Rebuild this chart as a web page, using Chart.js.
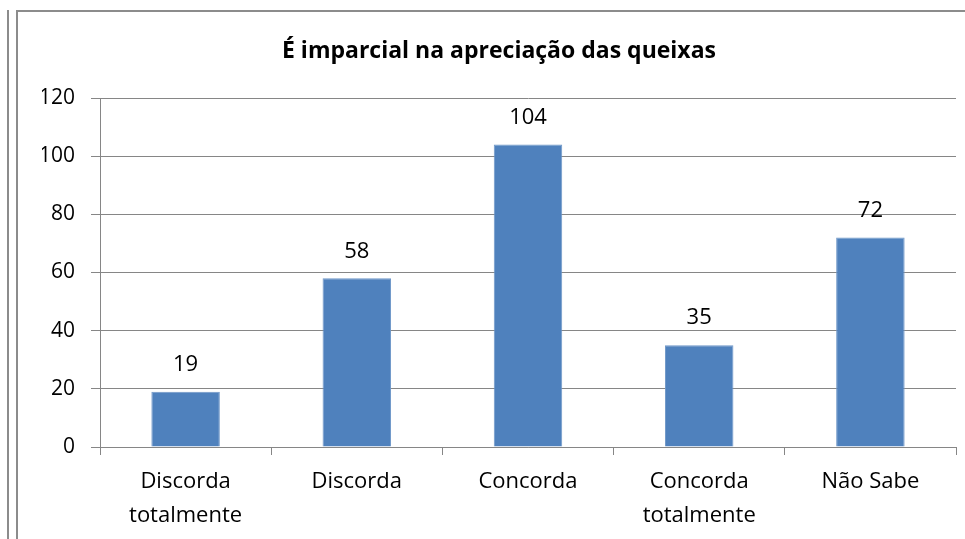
<!DOCTYPE html>
<html>
<head>
<meta charset="utf-8">
<script src="https://cdn.jsdelivr.net/npm/chart.js@4/dist/chart.umd.min.js"></script>
<style>
    body { margin: 0; background: #fff; }
    #wrap { position: relative; width: 965px; height: 539px; overflow: hidden; }
    .edge { position: absolute; background: #8c8c8c; }
    canvas { position: absolute; left: 0; top: 0; }
</style>
</head>
<body>
<div id="wrap">
    <div class="edge" style="left:7px; top:10px; width:2px; height:529px;"></div>
    <div class="edge" style="left:16px; top:10px; width:2px; height:529px;"></div>
    <div class="edge" style="left:16px; top:10px; width:949px; height:2px;"></div>
    <!-- the chart box runs past the right edge of the picture, so the canvas is wider and clipped -->
    <canvas id="chart" width="998" height="539"></canvas>
</div>
<script>
const chartTitle = 'É imparcial na apreciação das queixas';
const categories = [['Discorda', 'totalmente'], 'Discorda', 'Concorda', ['Concorda', 'totalmente'], 'Não Sabe'];
const respostas = [19, 58, 104, 35, 72];
const yTicks = [0, 20, 40, 60, 80, 100, 120];

const FONT = "'Open Sans', 'Liberation Sans', sans-serif";

// numbers above each bar
const barLabels = {
    id: 'barLabels',
    afterDatasetsDraw(chart) {
        const ctx = chart.ctx;
        ctx.save();
        ctx.font = '22px ' + FONT;
        ctx.fillStyle = '#000';
        ctx.textAlign = 'center';
        ctx.textBaseline = 'middle';
        chart.getDatasetMeta(0).data.forEach((bar, i) => {
            ctx.fillText(String(respostas[i]), bar.x, bar.y - 27);
        });
        ctx.restore();
    }
};

new Chart(document.getElementById('chart'), {
    type: 'bar',
    data: {
        labels: categories,
        datasets: [{
            data: respostas,
            backgroundColor: '#4F81BD',
            borderColor: '#6f97c8',
            borderWidth: 1,
            categoryPercentage: 1,
            barPercentage: 0.4
        }]
    },
    options: {
        responsive: false,
        animation: false,
        layout: { padding: { left: 42, right: 42, top: 0, bottom: 0 } },
        plugins: {
            legend: { display: false },
            tooltip: { enabled: false },
            title: {
                display: true,
                text: chartTitle,
                color: '#000',
                font: { family: FONT, size: 23, weight: 'bold', lineHeight: 1.2 },
                padding: { top: 38, bottom: 32.4 }
            }
        },
        scales: {
            y: {
                min: 0,
                max: 120,
                afterBuildTicks: (scale) => { scale.ticks = yTicks.map(v => ({ value: v })); },
                afterFit: (scale) => { scale.width = 58; },
                grid: { color: '#868686', lineWidth: 1, tickLength: 9, drawTicks: true },
                border: { color: '#868686', width: 1 },
                ticks: { color: '#000', padding: 16, font: { family: FONT, size: 21 } }
            },
            x: {
                afterFit: (scale) => { scale.height = 92; },
                grid: { display: true, drawOnChartArea: false, color: '#868686', tickLength: 8, offset: true },
                border: { color: '#868686', width: 1 },
                ticks: { color: '#000', padding: 10, maxRotation: 0, autoSkip: false, font: { family: FONT, size: 22, lineHeight: 1.55 } }
            }
        }
    },
    plugins: [barLabels]
});
</script>
</body>
</html>
